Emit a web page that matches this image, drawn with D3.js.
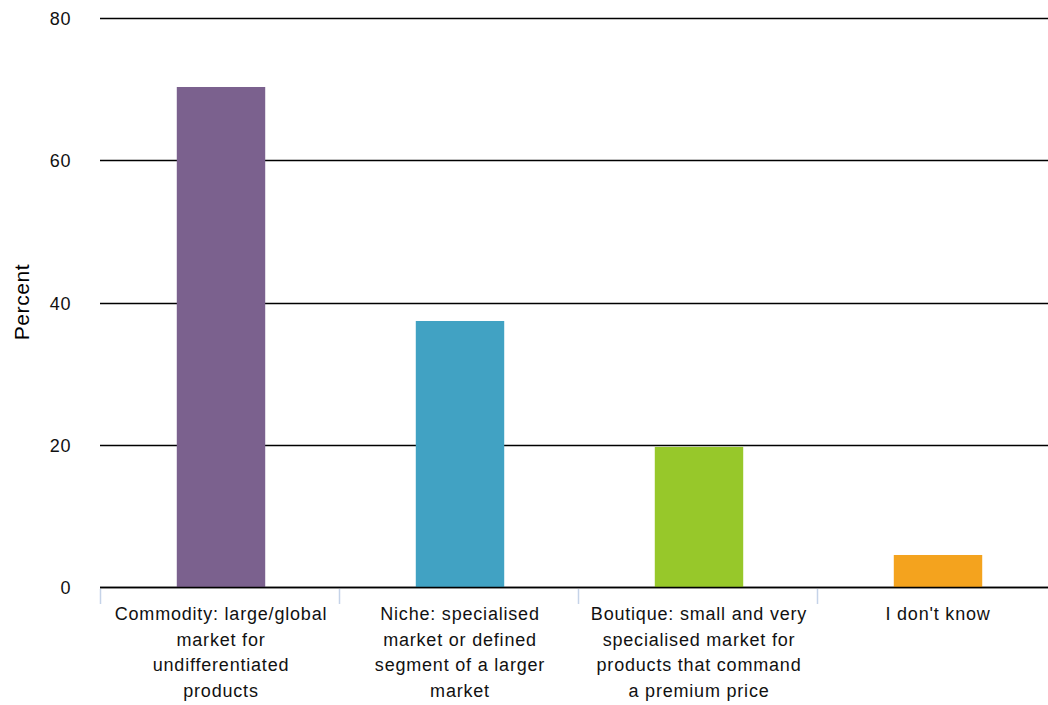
<!DOCTYPE html>
<html>
<head>
<meta charset="utf-8">
<script src="https://cdn.jsdelivr.net/npm/d3@7"></script>
<style>
    body { margin: 0; background: #fff; }
    svg { display: block; font-family: "Liberation Sans", Arial, sans-serif; }
</style>
</head>
<body>
<svg width="1048" height="705"></svg>
<script>
var categories = [
    ['Commodity: large/global', 'market for', 'undifferentiated', 'products'],
    ['Niche: specialised', 'market or defined', 'segment of a larger', 'market'],
    ['Boutique: small and very', 'specialised market for', 'products that command', 'a premium price'],
    ['I don\'t know']
];
var values = [70.3, 37.4, 19.7, 4.5];
var colors = ['#7b618e', '#41a2c3', '#97c82a', '#f4a31e'];
var yTicks = [0, 20, 40, 60, 80];

(function () {
    var svg = d3.select('svg');
    var plotLeft = 100, plotRight = 1056, plotTop = 18, plotBottom = 587;

    // bars sit a touch right of the separators in the original
    var x = d3.scaleBand()
        .domain(d3.range(categories.length))
        .range([plotLeft + 1.5, plotRight + 1.5])
        .paddingInner(0.63)
        .paddingOuter(0.315);

    var y = d3.scaleLinear().domain([0, 80]).range([plotBottom, plotTop]);

    // gridlines
    svg.selectAll('line.grid')
        .data(yTicks)
        .enter()
        .append('line')
        .attr('class', 'grid')
        .attr('x1', plotLeft)
        .attr('x2', 1048)
        .attr('y1', function (d) { return Math.round(y(d)) + 0.5; })
        .attr('y2', function (d) { return Math.round(y(d)) + 0.5; })
        .style('stroke', '#000')
        .style('stroke-width', 1.5);

    // y tick labels
    svg.selectAll('text.ytick')
        .data(yTicks)
        .enter()
        .append('text')
        .attr('class', 'ytick')
        .attr('x', 71)
        .attr('y', function (d) { return y(d) + 7; })
        .style('text-anchor', 'end')
        .style('font-size', '18px')
        .style('letter-spacing', '0.6px')
        .style('fill', '#111')
        .text(function (d) { return d; });

    // category separators
    var band = (plotRight - plotLeft) / categories.length;
    svg.selectAll('line.xtick')
        .data(d3.range(categories.length))
        .enter()
        .append('line')
        .attr('class', 'xtick')
        .attr('x1', function (d) { return plotLeft + d * band + 0.5; })
        .attr('x2', function (d) { return plotLeft + d * band + 0.5; })
        .attr('y1', plotBottom + 2)
        .attr('y2', plotBottom + 17)
        .style('stroke', '#c5d3e8')
        .style('stroke-width', 1.5);

    // bars
    svg.selectAll('rect.bar')
        .data(values)
        .enter()
        .append('rect')
        .attr('class', 'bar')
        .attr('x', function (d, i) { return x(i); })
        .attr('width', x.bandwidth())
        .attr('y', function (d) { return y(d); })
        .attr('height', function (d) { return plotBottom - y(d); })
        .style('fill', function (d, i) { return colors[i]; });

    // zero line drawn over bars
    svg.append('line')
        .attr('x1', plotLeft)
        .attr('x2', 1048)
        .attr('y1', plotBottom + 0.5)
        .attr('y2', plotBottom + 0.5)
        .style('stroke', '#000')
        .style('stroke-width', 1.5);

    // category labels
    var labels = svg.selectAll('text.xlabel')
        .data(categories)
        .enter()
        .append('text')
        .attr('class', 'xlabel')
        .attr('x', function (d, i) { return x(i) + x.bandwidth() / 2; })
        .attr('y', 620)
        .style('text-anchor', 'middle')
        .style('font-size', '18px')
        .style('letter-spacing', '0.8px')
        .style('fill', '#111');

    labels.selectAll('tspan')
        .data(function (d) { return d; })
        .enter()
        .append('tspan')
        .attr('x', function () { return d3.select(this.parentNode).attr('x'); })
        .attr('dy', function (d, i) { return i === 0 ? 0 : 25.7; })
        .text(function (d) { return d; });

    // axis title
    svg.append('text')
        .attr('transform', 'translate(29,302) rotate(-90)')
        .style('text-anchor', 'middle')
        .style('font-size', '21px')
        .style('letter-spacing', '0.6px')
        .style('fill', '#000')
        .text('Percent');
})();
</script>
</body>
</html>
